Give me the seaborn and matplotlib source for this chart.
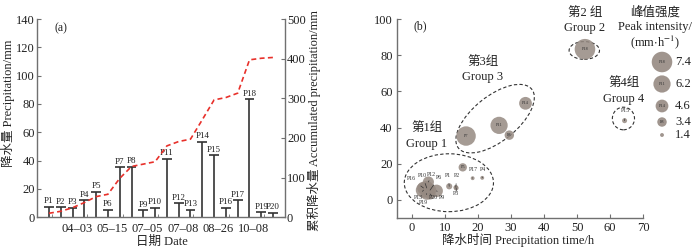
import numpy as np
import pandas as pd
import matplotlib.pyplot as plt
import seaborn as sns
from matplotlib.patches import Ellipse
from matplotlib.transforms import Affine2D

# Data
events = ["P%d" % i for i in range(1, 21)]
precip = [7.5, 7.0, 6.6, 12.2, 18.0, 5.4, 35.3, 35.8, 5.0, 6.6,
          41.2, 9.9, 5.4, 53.4, 43.8, 6.6, 12.0, 83.3, 3.5, 3.3]
accum = [10, 15, 24, 37, 52, 58, 98, 128, 134, 140,
         180, 191, 197, 246, 296, 302, 313, 397, 401, 403]
date_labels = ["04–03", "05–15", "07–05", "07–08", "08–26", "10–08"]
duration = [11.3, 13.3, 13.4, 21.3, 15.4, 5.5, 16.4, 29.5, 7.5, 4.5,
            26.4, 5.0, 3.5, 34.4, 64.4, 3.5, 18.4, 52.4, 4.5, 5.5]
peak = [2.2, 1.6, 1.8, 1.4, 3.0, 4.5, 7.0, 3.4, 4.5, 5.0,
        6.2, 4.0, 5.5, 4.6, 1.8, 4.5, 1.4, 7.4, 4.5, 4.0]
legend_peak = [7.4, 6.2, 4.6, 3.4, 1.4]
legend_tags = ["P18", "P11", "P14", "P8", ""]

sns.set_theme(style="ticks")
plt.rcParams["font.family"] = ["Liberation Serif", "Noto Sans CJK SC", "DejaVu Sans"]
plt.rcParams["mathtext.fontset"] = "stix"
plt.rcParams["font.size"] = 9
plt.rcParams["axes.unicode_minus"] = False

spine_c = "#707070"
txt_c = "#222222"
stem_c = "#333333"
dot_c = "#968a82"
k_size = 2.0  # marker diameter (pt) per mm/h

df = pd.DataFrame({"event": events, "idx": np.arange(1, 21), "precip": precip,
                   "accum": accum, "duration": duration, "peak": peak})
df["s"] = (k_size * df["peak"]) ** 2

fig = plt.figure(figsize=(7, 2.5), dpi=100)

# ================= (a) =================
ax_a = fig.add_axes([0.053, 0.131, 0.354, 0.793])
ax_a.vlines(df["idx"], 0, df["precip"], color=stem_c, lw=1.2)
ax_a.hlines(df["precip"], df["idx"] - 0.42, df["idx"] + 0.42, color=stem_c, lw=1.2)
for _, r in df.iterrows():
    ax_a.text(r["idx"], r["precip"] + 1.0, r["event"], ha="center", va="bottom",
              fontsize=6.5, color=txt_c)
ax_a.set_xlim(0, 21)
ax_a.set_ylim(0, 140)
ax_a.set_yticks(range(0, 141, 20))
ax_a.set_xticks([3.35 + 3 * k for k in range(6)])
ax_a.set_xticklabels(date_labels)
ax_a.set_xticks([1.25 + 3 * k for k in range(7)], minor=True)
ax_a.tick_params(axis="x", which="major", length=0, pad=4, labelsize=9, colors=txt_c)
ax_a.tick_params(axis="x", which="minor", direction="in", length=2, width=0.6, color=spine_c)
ax_a.tick_params(axis="y", direction="in", length=3, width=0.8, color=spine_c,
                 pad=1.5, labelsize=9, labelcolor=txt_c)
for s in ["left", "bottom"]:
    ax_a.spines[s].set_color(spine_c)
    ax_a.spines[s].set_linewidth(1.0)
ax_a.spines["top"].set_visible(False)
ax_a.spines["right"].set_visible(False)
ax_a.set_xlabel("日期 Date", fontsize=9, color=txt_c)
ax_a.xaxis.set_label_coords(0.504, -0.092)
ax_a.set_ylabel("降水量 Precipitation/mm", fontsize=9, color=txt_c)
ax_a.yaxis.set_label_coords(-0.089, 0.574)
ax_a.text(0.07, 0.955, "(a)", transform=ax_a.transAxes, fontsize=8.5, va="center", color=txt_c)

ax_r = ax_a.twinx()
sns.lineplot(data=df, x="idx", y="accum", ax=ax_r, color="#e8302a", lw=1.2,
             linestyle=(0, (3, 2)))
ax_r.set_ylim(0, 500)
ax_r.set_yticks(range(0, 501, 100))
ax_r.tick_params(axis="y", direction="in", length=3, width=0.8, color=spine_c,
                 pad=1.5, labelsize=9, labelcolor=txt_c)
for s in ["top", "left", "bottom"]:
    ax_r.spines[s].set_visible(False)
ax_r.spines["right"].set_color(spine_c)
ax_r.spines["right"].set_linewidth(1.0)
ax_r.set_xlabel("")
ax_r.set_ylabel("累积降水量 Accumulated precipitation/mm", fontsize=9, color=txt_c)
ax_r.yaxis.set_label_coords(1.088, 0.49)

# ================= (b) =================
ax_b = fig.add_axes([0.5667, 0.128, 0.352, 0.796])
sns.scatterplot(data=df, x="duration", y="precip", s=df["s"], color=dot_c,
                alpha=0.85, edgecolor="none", linewidth=0, ax=ax_b, zorder=3)
ax_b.set_xlim(-4.6, 70)
ax_b.set_ylim(-10, 100)
ax_b.set_xticks(range(0, 71, 10))
ax_b.set_yticks(range(0, 101, 20))
ax_b.tick_params(direction="in", length=3, width=0.8, color=spine_c, pad=3,
                 labelsize=9, labelcolor=txt_c)
for s in ["left", "bottom"]:
    ax_b.spines[s].set_color(spine_c)
    ax_b.spines[s].set_linewidth(1.0)
ax_b.spines["top"].set_visible(False)
ax_b.spines["right"].set_visible(False)
ax_b.set_xlabel("降水时间 Precipitation time/h", fontsize=9, color=txt_c)
ax_b.xaxis.set_label_coords(0.4925, -0.075)
ax_b.set_ylabel("")
ax_b.text(0.07, 0.965, "(b)", transform=ax_b.transAxes, fontsize=8.5, va="center", color=txt_c)

# labels inside the bigger circles
inner = ["P5", "P7", "P8", "P11", "P14", "P18"]
for _, r in df[df["event"].isin(inner)].iterrows():
    ax_b.text(r["duration"], r["precip"], r["event"], fontsize=3.2, ha="center",
              va="center", color="#333333", zorder=4)

# labels outside with leader lines
outer = {"P16": (-0.1, 11.6), "P10": (3.2, 13.4), "P12": (6.0, 13.8), "P6": (8.2, 12.5),
         "P13": (1.9, 1.5), "P19": (3.6, -1.3), "P20": (6.5, 1.3), "P9": (9.0, 1.5),
         "P1": (11.0, 13.3), "P2": (13.6, 13.3), "P3": (13.5, 3.7), "P17": (18.6, 16.6),
         "P4": (21.4, 17.0), "P15": (64.8, 49.2)}
for name, (tx, ty) in outer.items():
    r = df[df["event"] == name].iloc[0]
    ax_b.annotate(name, xy=(r["duration"], r["precip"]), xytext=(tx, ty),
                  fontsize=4.2, ha="center", va="center", color="#333333",
                  arrowprops=dict(arrowstyle="-", lw=0.5, color="#333333",
                                  shrinkA=1.5, shrinkB=0), zorder=5)

# group ellipses
ell_kw = dict(fill=False, ls=(0, (3, 2)), lw=0.8, ec="#333333", zorder=2)
ax_b.add_patch(Ellipse((11.2, 9.5), 27.0, 32.0, **ell_kw))
ax_b.add_patch(Ellipse((52.2, 82.6), 9.2, 9.8, **ell_kw))
ax_b.add_patch(Ellipse((64.05, 45.0), 6.7, 12.5, **ell_kw))
bw = 0.352 * 700
bh = 0.796 * 250
sx = bw / (70 + 4.6)
sy = bh / 110.0
tilt = Affine2D().scale(1 / sx, 1 / sy).translate(25.2, 44.9) + ax_b.transData
ax_b.add_patch(Ellipse((0, 0), 94, 45, angle=38.8, transform=tilt, **ell_kw))

grp = [("第2 组", "Group 2", 52.4, 103.4, 95.1),
       ("第3组", "Group 3", 21.5, 76.3, 68.0),
       ("第1组", "Group 1", 4.5, 39.8, 31.0),
       ("第4组", "Group 4", 64.2, 64.7, 55.8)]
for zh, en, gx, y1, y2 in grp:
    ax_b.text(gx, y1, zh, ha="center", va="center", fontsize=9, color=txt_c, clip_on=False)
    ax_b.text(gx, y2, en, ha="center", va="center", fontsize=9, color=txt_c, clip_on=False)

# size legend
ax_l = fig.add_axes([640 / 700, 0.0, 60 / 700, 1.0])
ax_l.set_xlim(640, 700)
ax_l.set_ylim(250, 0)
ax_l.axis("off")
leg = pd.DataFrame({"peak": legend_peak, "tag": legend_tags,
                    "y": [62, 84, 106, 122, 135]})
leg["x"] = 662
leg["s"] = (k_size * leg["peak"]) ** 2
sns.scatterplot(data=leg, x="x", y="y", s=leg["s"], color=dot_c, alpha=0.9,
                edgecolor="none", linewidth=0, ax=ax_l, legend=False)
for _, r in leg.iterrows():
    ax_l.text(r["x"], r["y"], r["tag"], fontsize=3.2, ha="center", va="center", color="#333333")
    ax_l.text(675, r["y"], "%.1f" % r["peak"], fontsize=9, ha="left", va="center", color=txt_c)
ax_l.set_xlabel("")
ax_l.set_ylabel("")
fig.text(655 / 700, 1 - 12 / 250, "峰值强度", ha="center", va="center", fontsize=9, color=txt_c)
fig.text(655 / 700, 1 - 27 / 250, "Peak intensity/", ha="center", va="center", fontsize=9, color=txt_c)
fig.text(655 / 700, 1 - 42 / 250, r"(mm$\cdot$h$^{-1}$)", ha="center", va="center", fontsize=9, color=txt_c)

fig.savefig("out.png", dpi=100)
